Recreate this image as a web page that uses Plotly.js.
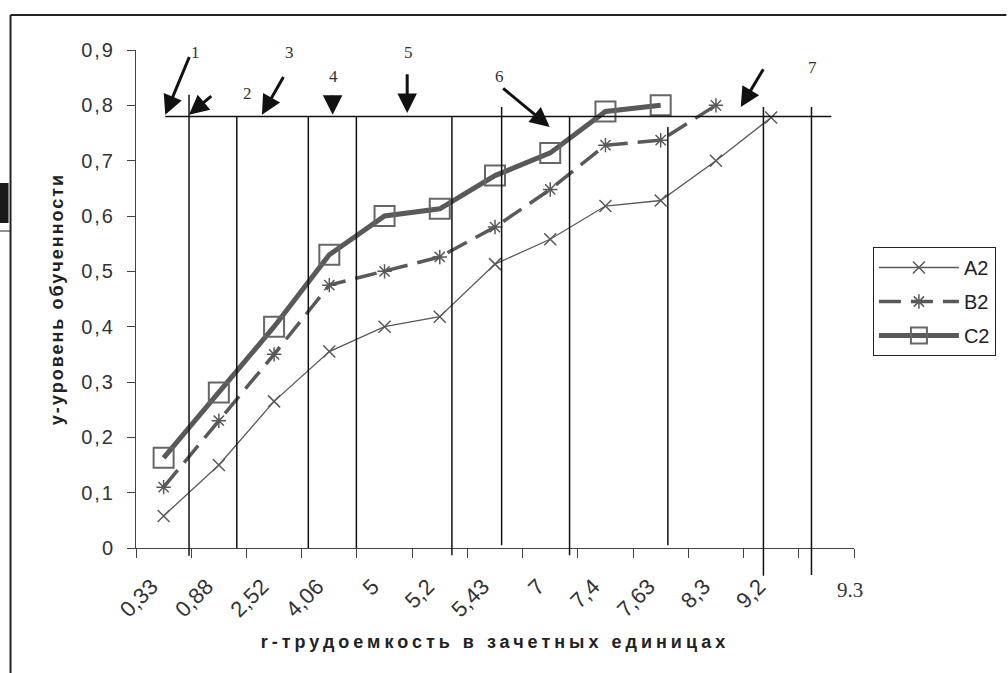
<!DOCTYPE html>
<html><head><meta charset="utf-8">
<script src="https://cdn.plot.ly/plotly-3.0.1.min.js"></script>
<style>
html,body{margin:0;padding:0;background:#fff;}
#chart{width:1008px;height:673px;}
.xtitle{letter-spacing:4px;}
.ytitle{letter-spacing:2px;}
.ytick text{letter-spacing:2px;}
</style></head><body><div id="chart"></div>
<script>
// categories (13th is an empty slot)
const xLabels = ['0,33','0,88','2,52','4,06','5','5,2','5,43','7','7,4','7,63','8,3','9,2',' '];
// series values
const seriesA2 = [0.058, 0.15, 0.265, 0.355, 0.40, 0.418, 0.513, 0.558, 0.618, 0.628, 0.70, 0.778];
const seriesB2 = [0.11, 0.23, 0.35, 0.475, 0.50, 0.526, 0.58, 0.648, 0.728, 0.737, 0.80];
const seriesC2 = [0.163, 0.281, 0.40, 0.53, 0.60, 0.613, 0.673, 0.714, 0.789, 0.80];
const seriesNames = ['A2','B2','C2'];
// y ticks
const yTickVals = [0,0.1,0.2,0.3,0.4,0.5,0.6,0.7,0.8,0.9];
const yMax = 0.9;
// reference level line
const levelY = 0.78;
const levelX = [0.03, 12.09];
// stage boundary lines (x as category index)
const stageLineX = [0.46, 1.325, 2.62, 3.49, 5.22, 6.12, 7.35, 9.13, 10.86, 11.73];
const stageLineTop = [0.819, 0.78, 0.78, 0.78, 0.78, 0.797, 0.78, 0.761, 0.797, 0.797];
const stageLineBottom = [-0.014, 0, 0, 0, -0.013, 0.005, -0.013, 0.005, -0.05, -0.049];
// arrows
const arrowTipX = [0.03, 0.46, 1.78, 3.06, 4.41, 6.99, 10.45];
const arrowTipY = [0.783, 0.783, 0.783, 0.783, 0.786, 0.761, 0.797];
const arrowTailX = [0.48, 0.89, 2.19, 3.06, 4.41, 6.12, 10.88];
const arrowTailY = [0.891, 0.819, 0.855, 0.821, 0.860, 0.833, 0.869];
// stage numbers
const stageLabels = ['1','2','3','4','5','6','7'];
const stageLabelX = [0.57, 1.51, 2.28, 3.07, 4.43, 6.09, 11.75];
const stageLabelY = [0.896, 0.822, 0.896, 0.853, 0.896, 0.853, 0.869];
const extraTickLabel = '9.3';

const W = 1008, H = 673, L = 136, R = 151, T = 50, B = 125;
const pw = W - L - R, ph = H - T - B;
const px = v => (v - L) / pw;
const py = v => (H - B - v) / ph;

const gray = '#595959';
const traces = [
  {x: xLabels.slice(0, seriesA2.length), y: seriesA2, name: seriesNames[0], type: 'scatter', mode: 'lines+markers',
   line: {color: gray, width: 1.3}, marker: {symbol: 'x-thin-open', size: 12, color: gray, line: {color: gray, width: 1.5}}, legendgroup: 'a'},
  {x: xLabels.slice(0, seriesB2.length), y: seriesB2, name: seriesNames[1], type: 'scatter', mode: 'lines+markers',
   line: {color: gray, width: 3.5, dash: '22px,10px'}, marker: {symbol: 'asterisk-open', size: 12, color: gray, line: {color: gray, width: 1.5}}, legendgroup: 'b'},
  {x: xLabels.slice(0, seriesC2.length), y: seriesC2, name: seriesNames[2], type: 'scatter', mode: 'lines+markers',
   line: {color: gray, width: 5}, marker: {symbol: 'square-open', size: 20, color: '#666', line: {color: '#666', width: 2}}, legendgroup: 'c'}
];

const shapes = [];
shapes.push({type: 'line', xref: 'x', yref: 'y', x0: levelX[0], x1: levelX[1], y0: levelY, y1: levelY, line: {color: '#111', width: 1.5}});
stageLineX.forEach((xv, i) => {
  shapes.push({type: 'line', xref: 'x', yref: 'paper', x0: xv, x1: xv, y0: stageLineBottom[i] / yMax, y1: stageLineTop[i] / yMax, line: {color: '#111', width: 1.5}});
});
// page frame decoration
shapes.push({type: 'line', xref: 'paper', yref: 'paper', x0: px(10), x1: px(1010), y0: py(15), y1: py(15), line: {color: '#222', width: 2}});
shapes.push({type: 'line', xref: 'paper', yref: 'paper', x0: px(10), x1: px(10), y0: py(15), y1: py(680), line: {color: '#222', width: 2}});
shapes.push({type: 'rect', xref: 'paper', yref: 'paper', x0: px(-2), x1: px(8), y0: py(183), y1: py(223), fillcolor: '#1a1a1a', line: {width: 0}});
shapes.push({type: 'line', xref: 'paper', yref: 'paper', x0: px(-2), x1: px(10), y0: py(231), y1: py(231), line: {color: '#222', width: 1}});

const annotations = [];
arrowTipX.forEach((xv, i) => {
  annotations.push({x: xv, y: arrowTipY[i], xref: 'x', yref: 'y', ax: arrowTailX[i], ay: arrowTailY[i], axref: 'x', ayref: 'y',
    text: ' ', font: {size: 1}, showarrow: true, arrowhead: 2, arrowsize: 1.3, arrowwidth: 3, arrowcolor: '#111', standoff: 0, startstandoff: 0});
});
stageLabels.forEach((t, i) => {
  annotations.push({x: stageLabelX[i], y: stageLabelY[i], xref: 'x', yref: 'y', text: t, showarrow: false,
    font: {family: 'Liberation Serif', size: 17, color: '#333'}});
});
annotations.push({x: 12.43, y: py(604), xref: 'x', yref: 'paper', text: extraTickLabel, showarrow: false,
  font: {family: 'Liberation Serif', size: 21, color: '#333'}});

const layout = {
  width: W, height: H,
  margin: {l: L, r: R, t: T, b: B},
  paper_bgcolor: '#fff', plot_bgcolor: '#fff',
  separators: ', ',
  font: {family: 'Liberation Sans, Arial, sans-serif', color: '#333'},
  showlegend: true,
  legend: {x: px(876), y: py(247), xanchor: 'left', yanchor: 'top', bgcolor: '#fff', bordercolor: '#222', borderwidth: 1,
    font: {size: 20, color: '#222'}, itemwidth: 80, tracegroupgap: 5},
  xaxis: {
    type: 'category', categoryorder: 'array', categoryarray: xLabels, range: [-0.5, xLabels.length - 0.5],
    tickson: 'boundaries', ticks: 'outside', ticklen: 9, tickcolor: '#444', showline: true, linecolor: '#444', linewidth: 1,
    showgrid: false, zeroline: false, tickangle: -45, ticklabelstandoff: 16, ticklabelshift: -12,
    tickfont: {size: 22, color: '#333'},
    title: {text: 'r-трудоемкость в зачетных единицах', font: {size: 18, color: '#222', weight: 'bold'}, standoff: 14}
  },
  yaxis: {
    range: [0, yMax], tickvals: yTickVals, ticks: 'outside', ticklen: 8, tickcolor: '#444', showline: true, linecolor: '#444', linewidth: 1,
    showgrid: false, zeroline: false, ticklabelstandoff: 8,
    tickfont: {size: 20, color: '#333'},
    title: {text: 'y-уровень обученности', font: {size: 18, color: '#222', weight: 'bold'}, standoff: 12}
  },
  shapes: shapes,
  annotations: annotations
};

Plotly.newPlot('chart', traces, layout, {displayModeBar: false, staticPlot: true});
</script></body></html>
